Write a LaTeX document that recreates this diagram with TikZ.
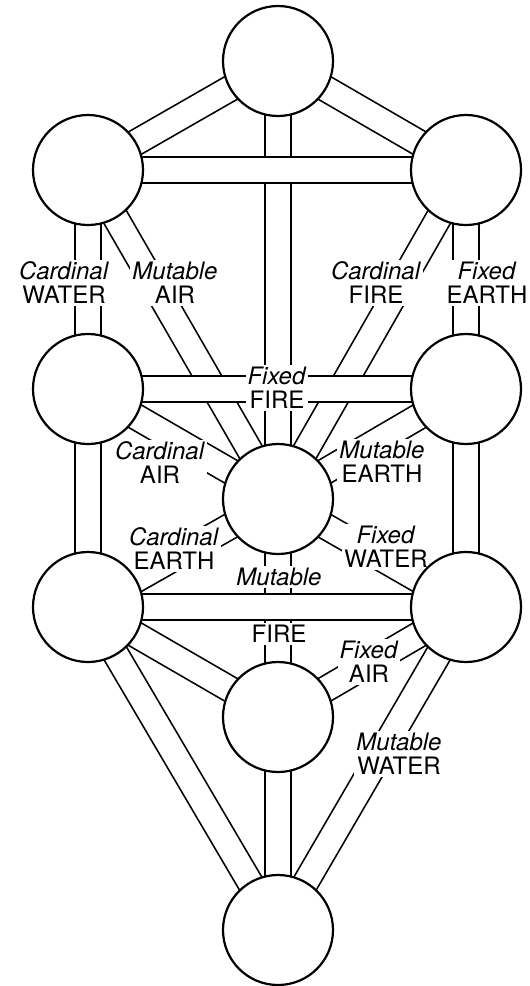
\documentclass[tikz,border=0pt]{standalone}
\usepackage{fontspec}
\setmainfont{TeX Gyre Heros}
\pgfdeclarelayer{paths}
\pgfdeclarelayer{labels}
\pgfsetlayers{paths,labels,main}
\tikzset{
	sphere/.style={circle, draw, line width=2.2pt, fill=white, minimum size=110pt, inner sep=0pt},
	channel/.style={draw=black, line width=1.7pt, double=white, double distance=24pt},
	pathlabel/.style={fill=white, inner sep=2pt, align=center, font=\fontsize{24}{24}\selectfont},
}
\begin{document}
\begin{tikzpicture}[x=1pt, y=-1pt]
			\useasboundingbox (0,0) rectangle (530,986);
			\node[sphere] (kether) at (278,61) {};
			\node[sphere] (binah) at (88,170) {};
			\node[sphere] (chokmah) at (466,170) {};
			\node[sphere] (geburah) at (88,389) {};
			\node[sphere] (chesed) at (466,389) {};
			\node[sphere] (tiphareth) at (278,499) {};
			\node[sphere] (hod) at (88,607) {};
			\node[sphere] (netzach) at (466,607) {};
			\node[sphere] (yesod) at (278,717) {};
			\node[sphere] (malkuth) at (278,930) {};
			\begin{pgfonlayer}{paths}
			\draw[channel] (kether.center) -- (binah.center);
			\draw[channel] (kether.center) -- (chokmah.center);
			\draw[channel] (kether.center) -- (tiphareth.center);
			\draw[channel] (binah.center) -- (geburah.center);
			\draw[channel] (binah.center) -- (tiphareth.center);
			\draw[channel] (chokmah.center) -- (chesed.center);
			\draw[channel] (chokmah.center) -- (tiphareth.center);
			\draw[channel] (geburah.center) -- (tiphareth.center);
			\draw[channel] (chesed.center) -- (tiphareth.center);
			\draw[channel] (geburah.center) -- (hod.center);
			\draw[channel] (chesed.center) -- (netzach.center);
			\draw[channel] (tiphareth.center) -- (hod.center);
			\draw[channel] (tiphareth.center) -- (netzach.center);
			\draw[channel] (tiphareth.center) -- (yesod.center);
			\draw[channel] (hod.center) -- (yesod.center);
			\draw[channel] (netzach.center) -- (yesod.center);
			\draw[channel] (hod.center) -- (malkuth.center);
			\draw[channel] (netzach.center) -- (malkuth.center);
			\draw[channel] (yesod.center) -- (malkuth.center);
			\draw[channel] (binah.center) -- (chokmah.center);
			\draw[channel] (geburah.center) -- (chesed.center);
			\draw[channel] (hod.center) -- (netzach.center);
			\end{pgfonlayer}
			\begin{pgfonlayer}{labels}
			\node[pathlabel] (cardwater) at (64,283) {\textit{Cardinal}\\WATER};
			\node[pathlabel] (mutair) at (175,283) {\textit{Mutable}\\AIR};
			\node[pathlabel] (cardfire) at (376,283) {\textit{Cardinal}\\FIRE};
			\node[pathlabel] (fixearth) at (487,283) {\textit{Fixed}\\EARTH};
			\node[pathlabel] (fixfire) at (277,388) {\textit{Fixed}\\FIRE};
			\node[pathlabel] (cardair) at (160,463) {\textit{Cardinal}\\AIR};
			\node[pathlabel] (mutearth) at (382,462) {\textit{Mutable}\\EARTH};
			\node[pathlabel] (cardearth) at (174,549) {\textit{Cardinal}\\EARTH};
			\node[pathlabel] (fixwater) at (386,547) {\textit{Fixed}\\WATER};
			\node[pathlabel] (mutfire) at (279,577) {\textit{Mutable}};
			\node[pathlabel] (fire) at (279,634) {FIRE};
			\node[pathlabel] (fixair) at (369,662) {\textit{Fixed}\\AIR};
			\node[pathlabel] (mutwater) at (399,754) {\textit{Mutable}\\WATER};
			\end{pgfonlayer}
		\end{tikzpicture}
\end{document}
